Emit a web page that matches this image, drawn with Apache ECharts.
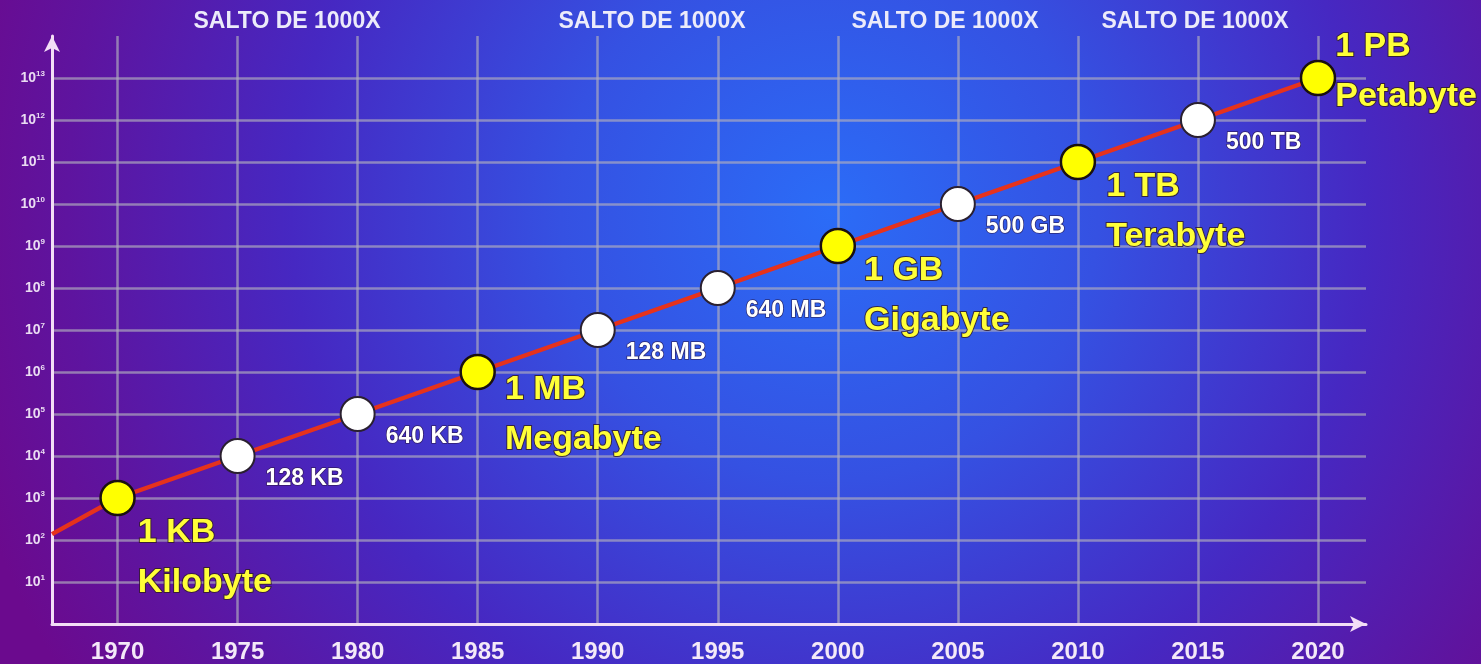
<!DOCTYPE html>
<html>
<head>
<meta charset="utf-8">
<title>Capacidad de almacenamiento</title>
<script src="https://cdn.jsdelivr.net/npm/echarts@6/dist/echarts.min.js"></script>
<style>
  html, body { margin: 0; padding: 0; }
  #chart { width: 1481px; height: 664px; }
</style>
</head>
<body>
<div id="chart"></div>
<script>
// years on the x axis (first entry is where the red line leaves the y axis)
var years = [1967.27, 1970, 1975, 1980, 1985, 1990, 1995, 2000, 2005, 2010, 2015, 2020]
// power of ten on the y axis
var exponents = [2.14, 3, 4, 5, 6, 7, 8, 9, 10, 11, 12, 13]
var sizeLabels = ['', '1 KB', '128 KB', '640 KB', '1 MB', '128 MB', '640 MB', '1 GB', '500 GB', '1 TB', '500 TB', '1 PB']
var unitNames = ['', 'Kilobyte', '', '', 'Megabyte', '', '', 'Gigabyte', '', 'Terabyte', '', 'Petabyte']
var jumpLabels = ['SALTO DE 1000X', 'SALTO DE 1000X', 'SALTO DE 1000X', 'SALTO DE 1000X']

// label placement (style only)
var majorOffsets = { 1: [-3, 60], 4: [4, 43], 7: [3, 50], 9: [5, 50], 11: [-6, -6] }
var minorOffset = [5, 23]
var jumpCentersX = [287, 652, 945, 1195]

var sans = '"Liberation Sans", Arial, sans-serif'

var myChart = echarts.init(document.getElementById('chart'), null, { renderer: 'canvas' })

var points = []
for (var i = 0; i < years.length; i++) {
  var item = { value: [years[i], exponents[i]] }
  if (i === 0) {
    item.symbol = 'none'
  } else if (unitNames[i]) {
    item.itemStyle = { color: '#ffff00', borderColor: '#1a1010', borderWidth: 2.5 }
    item.label = {
      show: true,
      position: 'right',
      offset: majorOffsets[i],
      formatter: '{a|' + sizeLabels[i] + '}\n{a|' + unitNames[i] + '}',
      rich: {
        a: {
          fontFamily: sans,
          fontWeight: 'bold',
          fontSize: 34,
          lineHeight: 50,
          color: '#ffff38',
          textBorderColor: 'rgba(50,30,40,0.85)',
          textBorderWidth: 2
        }
      }
    }
  } else {
    item.itemStyle = { color: '#ffffff', borderColor: '#2a2030', borderWidth: 2 }
    item.label = {
      show: true,
      position: 'right',
      offset: minorOffset,
      formatter: sizeLabels[i],
      fontFamily: sans,
      fontWeight: 'bold',
      fontSize: 23,
      color: '#ffffff',
      textBorderColor: 'rgba(40,20,60,0.7)',
      textBorderWidth: 1.5
    }
  }
  points.push(item)
}

var graphics = []
for (var j = 0; j < jumpLabels.length; j++) {
  graphics.push({
    type: 'text',
    x: jumpCentersX[j],
    y: 22,
    style: {
      text: jumpLabels[j],
      align: 'center',
      verticalAlign: 'middle',
      fontFamily: sans,
      fontWeight: 'bold',
      fontSize: 23,
      fill: '#ecebfa',
      shadowColor: 'rgba(220,220,255,0.8)',
      shadowBlur: 6
    }
  })
}

var gridLine = { color: 'rgba(175,172,188,0.68)', width: 2.5 }

var option = {
  backgroundColor: {
    type: 'radial',
    x: 0.56,
    y: 0.32,
    r: 1.35,
    colorStops: [
      { offset: 0, color: '#2b6cf7' },
      { offset: 0.3, color: '#3551e2' },
      { offset: 0.6, color: '#4628c2' },
      { offset: 0.85, color: '#5e149f' },
      { offset: 1, color: '#6b0a8e' }
    ]
  },
  animation: false,
  grid: {
    left: 52,
    right: 115,
    top: 36,
    bottom: 39,
    containLabel: false
  },
  xAxis: {
    type: 'value',
    min: 1967.27,
    max: 2022,
    splitNumber: 11,
    axisLine: {
      lineStyle: { color: '#f3def6', width: 3 },
      symbol: ['none', 'arrow'],
      symbolSize: [12, 16]
    },
    axisTick: { show: false },
    axisLabel: {
      showMinLabel: false,
      showMaxLabel: false,
      margin: 16,
      fontFamily: sans,
      fontWeight: 'bold',
      fontSize: 24,
      color: '#f4e9f8',
      formatter: function(v) {
        return v % 5 === 0 ? String(v) : ''
      }
    },
    splitLine: {
      show: true,
      showMinLine: false,
      showMaxLine: false,
      lineStyle: gridLine
    }
  },
  yAxis: {
    type: 'value',
    min: 0,
    max: 14,
    interval: 1,
    axisLine: {
      show: true,
      lineStyle: { color: '#f3def6', width: 3 },
      symbol: ['none', 'arrow'],
      symbolSize: [12, 16]
    },
    axisTick: { show: false },
    axisLabel: {
      margin: 7,
      formatter: function(v) {
        if (v < 1 || v > 13) {
          return ''
        }
        return '{b|10}{s|' + v + '}'
      },
      rich: {
        b: { fontFamily: sans, fontWeight: 'bold', fontSize: 14, color: '#eadcf2', lineHeight: 16 },
        s: { fontFamily: sans, fontWeight: 'bold', fontSize: 8, color: '#eadcf2', verticalAlign: 'top', lineHeight: 16 }
      }
    },
    splitLine: {
      show: true,
      showMinLine: false,
      showMaxLine: false,
      lineStyle: gridLine
    }
  },
  graphic: graphics,
  series: [
    {
      type: 'line',
      data: points,
      symbol: 'circle',
      symbolSize: 34,
      lineStyle: { color: '#e6321c', width: 4.5 },
      z: 3
    }
  ]
}

option && myChart.setOption(option)
</script>
</body>
</html>
